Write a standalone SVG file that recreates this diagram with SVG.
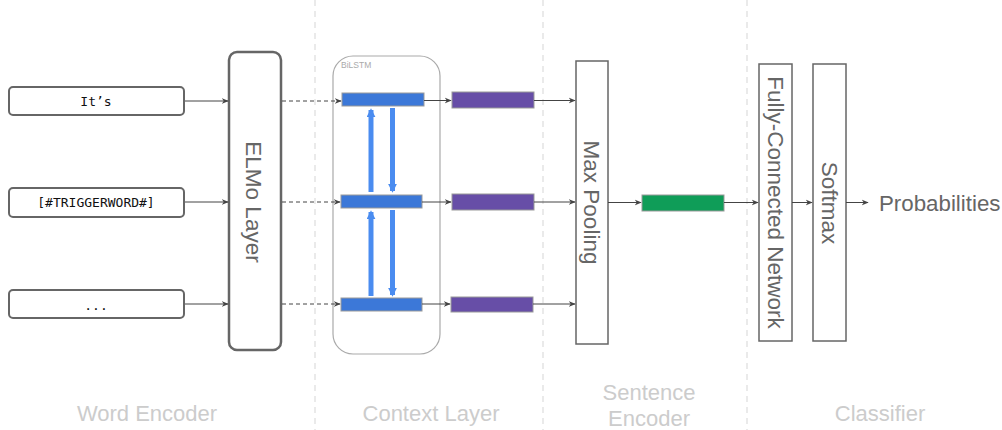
<svg xmlns="http://www.w3.org/2000/svg" width="1002" height="430" viewBox="0 0 1002 430">
<defs>
<marker id="ah" viewBox="0 0 10 10" refX="9" refY="5" markerWidth="7" markerHeight="7" markerUnits="userSpaceOnUse" orient="auto"><path d="M0,1 L10,5 L0,9 L3,5 z" fill="#444"/></marker>
<marker id="bh" viewBox="0 0 10 10" refX="8" refY="5" markerWidth="9" markerHeight="9" markerUnits="userSpaceOnUse" orient="auto"><path d="M0,0 L10,5 L0,10 z" fill="#4a8cf0"/></marker>
</defs>
<style>
.sep{stroke:#ddd;stroke-width:1.2;stroke-dasharray:6,5;fill:none}
.word{fill:#fff;stroke:#666;stroke-width:2}
.wt{font-family:"DejaVu Sans Mono","Liberation Mono",monospace;font-size:13px;fill:#111;text-anchor:middle}
.layer{fill:#fff;stroke:#666;stroke-width:1.5}
.lt{font-family:"Liberation Sans",Arial,sans-serif;font-size:22.5px;fill:#666;text-anchor:middle}
.sec{font-family:"Liberation Sans",Arial,sans-serif;font-size:22px;fill:#ccc;text-anchor:middle}
.ln{stroke:#444;stroke-width:1;fill:none;marker-end:url(#ah)}
.dl{stroke:#444;stroke-width:1;stroke-dasharray:4,3;fill:none;marker-end:url(#ah)}
.blue{fill:#3c78d8;stroke:#999;stroke-width:1}
.purple{fill:#674ea7;stroke:#999;stroke-width:1}
.green{fill:#0f9d58;stroke:#999;stroke-width:1}
.ba{stroke:#4a8cf0;stroke-width:5;fill:none;marker-end:url(#bh)}
</style>
<g id="separators">
<line class="sep" x1="315" y1="0" x2="315" y2="430"/>
<line class="sep" x1="543" y1="0" x2="543" y2="430"/>
<line class="sep" x1="747" y1="0" x2="747" y2="430"/>
</g>
<g id="section-labels">
<text class="sec" x="147" y="421">Word Encoder</text>
<text class="sec" x="431" y="421">Context Layer</text>
<text class="sec" x="649" y="400">Sentence</text>
<text class="sec" x="649" y="426">Encoder</text>
<text class="sec" x="880" y="421">Classifier</text>
</g>
<g id="word-1"><rect class="word" x="9" y="87" width="175" height="28" rx="4"/><text class="wt" x="96" y="106">It’s</text></g>
<g id="word-2"><rect class="word" x="9" y="188" width="175" height="29" rx="4"/><text class="wt" x="96" y="207">[#TRIGGERWORD#]</text></g>
<g id="word-3"><rect class="word" x="9" y="290" width="175" height="28" rx="4"/><text class="wt" x="96" y="310">...</text></g>
<g id="elmo"><rect x="229" y="52" width="52" height="298" rx="8" fill="#fff" stroke="#666" stroke-width="2.5"/><text class="lt" font-size="23" transform="translate(246,202) rotate(90)">ELMo Layer</text></g>
<g id="bilstm">
<rect x="333" y="56" width="107" height="298" rx="20" fill="none" stroke="#aaa" stroke-width="1.2"/>
<text x="341" y="68" font-family="'Liberation Sans',Arial,sans-serif" font-size="8.5" fill="#aaa">BiLSTM</text>
</g>
<g id="lstm-1"><rect class="blue" x="342" y="93" width="82" height="13"/></g>
<g id="lstm-2"><rect class="blue" x="341" y="195" width="81" height="13"/></g>
<g id="lstm-3"><rect class="blue" x="341" y="298" width="81" height="13"/></g>
<g id="out-1"><rect class="purple" x="452" y="92" width="82" height="16"/></g>
<g id="out-2"><rect class="purple" x="452" y="194" width="82" height="16"/></g>
<g id="out-3"><rect class="purple" x="451" y="297" width="82" height="15"/></g>
<g id="maxpool"><rect class="layer" x="576" y="61" width="32" height="283"/><text class="lt" transform="translate(584,202.5) rotate(90)">Max Pooling</text></g>
<g id="sentence-vec"><rect class="green" x="642" y="195" width="82" height="16"/></g>
<g id="fcn"><rect class="layer" x="759" y="64" width="33" height="277"/><text class="lt" transform="translate(767.5,202.5) rotate(90)">Fully-Connected Network</text></g>
<g id="softmax"><rect class="layer" x="813" y="64" width="33" height="277"/><text class="lt" transform="translate(822,203) rotate(90)">Softmax</text></g>
<g id="probabilities"><text x="879" y="211" font-family="'Liberation Sans',Arial,sans-serif" font-size="22.3" fill="#666">Probabilities</text></g>
<g id="connectors">
<line class="ln" x1="185" y1="101" x2="228" y2="101"/>
<line class="ln" x1="185" y1="202" x2="228" y2="202"/>
<line class="ln" x1="185" y1="304" x2="228" y2="304"/>
<line class="dl" x1="282" y1="101" x2="341" y2="101"/>
<line class="dl" x1="282" y1="202" x2="340" y2="202"/>
<line class="dl" x1="282" y1="304" x2="340" y2="304"/>
<line class="ba" x1="371" y1="192" x2="371" y2="110"/>
<line class="ba" x1="392.5" y1="108" x2="392.5" y2="191"/>
<line class="ba" x1="371" y1="296" x2="371" y2="212"/>
<line class="ba" x1="392.5" y1="210" x2="392.5" y2="295"/>
<line class="ln" x1="424" y1="100.5" x2="451" y2="100.5"/>
<line class="ln" x1="422" y1="202" x2="451" y2="202"/>
<line class="ln" x1="422" y1="304" x2="450" y2="304"/>
<line class="ln" x1="534" y1="100.5" x2="575" y2="100.5"/>
<line class="ln" x1="534" y1="202" x2="575" y2="202"/>
<line class="ln" x1="533" y1="304" x2="575" y2="304"/>
<line class="ln" x1="608" y1="202.5" x2="641" y2="202.5"/>
<line class="ln" x1="724" y1="202.5" x2="758" y2="202.5"/>
<line class="ln" x1="792" y1="202.5" x2="812" y2="202.5"/>
<line class="ln" x1="846" y1="202.5" x2="868" y2="202.5"/>
</g>
</svg>
